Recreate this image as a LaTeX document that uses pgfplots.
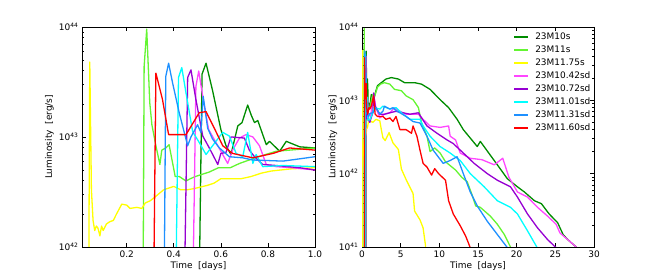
\documentclass[border=0pt]{standalone}
\usepackage{fontspec}
\setmainfont{DejaVu Sans}
\usepackage{pgfplots}
\pgfplotsset{compat=1.18}
\usepackage{pgfplotstable}

\definecolor{cdkgreen}{RGB}{0,140,0}
\definecolor{cltgreen}{RGB}{100,245,50}
\definecolor{cyellow}{RGB}{255,255,0}
\definecolor{cmagenta}{RGB}{255,70,255}
\definecolor{cpurple}{RGB}{150,0,210}
\definecolor{ccyan}{RGB}{0,255,255}
\definecolor{cblue}{RGB}{30,144,255}
\definecolor{cred}{RGB}{255,0,0}

\pgfplotstableread{
t L
0.501 3e40
0.520 3.72e43
0.537 4.68e43
0.565 2.63e43
0.600 1.17e43
0.622 8.32e42
0.643 6.92e42
0.672 1.26e43
0.690 1.35e43
0.714 1.95e43
0.729 1.58e43
0.743 1.35e43
0.757 1.41e43
0.793 8.51e42
0.807 9.12e42
0.850 7.41e42
0.878 9.12e42
0.935 8.13e42
1.00 7.94e42
1.2 1.20e43
1.5 1.05e43
2.0 1.58e43
2.5 1.74e43
3.1 1.95e43
3.8 2.04e43
4.7 1.95e43
5.5 1.74e43
6.8 1.74e43
7.7 1.66e43
8.8 1.41e43
10.1 1.02e43
11.2 7.94e42
12.3 5.50e42
13.1 3.98e42
14.2 2.88e42
14.9 2.34e42
15.3 2.75e42
16.6 1.78e42
17.5 1.32e42
18.8 8.51e41
20.1 6.61e41
21.0 5.62e41
22.3 4.27e41
23.2 3.89e41
24.2 2.82e41
25.3 2.14e41
26.0 1.48e41
26.6 1.26e41
27.7 1.00e41
28.0 3e40
}\tabA

\pgfplotstableread{
t L
0.267 3e40
0.274 4.37e43
0.285 9.55e43
0.298 2.04e43
0.307 1.29e43
0.324 8.32e42
0.341 5.62e42
0.349 7.59e42
0.366 7.94e42
0.380 8.51e42
0.406 4.37e42
0.423 4.37e42
0.452 3.98e42
0.470 4.17e42
0.492 4.37e42
0.520 4.57e42
0.550 4.79e42
0.590 5.25e42
0.640 5.25e42
0.680 5.75e42
0.760 6.61e42
0.835 7.41e42
1.00 7.94e42
1.4 1.20e43
1.6 1.10e43
2.0 1.51e43
2.4 1.66e43
2.9 1.74e43
3.6 1.66e43
4.2 1.41e43
5.1 1.35e43
5.7 1.15e43
6.6 1.02e43
7.3 7.94e42
7.7 4.90e42
8.4 3.24e42
8.8 2.00e42
9.4 2.24e42
10.1 1.91e42
10.8 1.45e42
12.1 1.12e42
12.9 8.91e41
13.6 7.76e41
14.2 5.25e41
14.7 3.63e41
15.3 3.47e41
16.6 2.63e41
17.5 2.04e41
18.4 1.48e41
19.2 1.00e41
19.6 3e40
}\tabB

\pgfplotstableread{
t L
0.036 3e40
0.043 4.79e43
0.050 3.31e42
0.057 1.74e42
0.064 1.41e42
0.071 1.55e42
0.078 1.48e42
0.086 1.26e42
0.093 1.55e42
0.100 1.41e42
0.114 1.62e42
0.129 1.70e42
0.143 1.74e42
0.157 2.00e42
0.179 2.45e42
0.200 2.40e42
0.214 2.24e42
0.243 2.29e42
0.264 2.24e42
0.279 2.51e42
0.300 2.63e42
0.329 2.95e42
0.357 3.31e42
0.400 3.55e42
0.429 3.31e42
0.457 3.31e42
0.486 3.39e42
0.543 3.63e42
0.571 3.80e42
0.600 4.17e42
0.686 4.17e42
0.729 4.37e42
0.771 4.68e42
0.814 4.90e42
0.900 5.13e42
1.00 5.25e42
1.4 5.01e42
1.8 5.50e42
2.3 5.25e42
2.5 3.98e42
2.7 3.09e42
3.0 2.82e42
3.5 3.63e42
4.0 2.63e42
4.7 2.14e42
5.1 1.15e42
5.7 8.32e41
6.6 5.37e41
6.8 3.09e41
7.5 2.34e41
7.9 1.82e41
8.2 1.07e41
8.5 3e40
}\tabC

\pgfplotstableread{
t L
0.473 3e40
0.494 2.88e43
0.506 3.98e43
0.523 2.34e43
0.548 1.17e43
0.579 8.91e42
0.629 5.75e42
0.650 7.59e42
0.679 9.77e42
0.707 1.05e43
0.736 1.00e43
0.764 8.32e42
0.793 5.62e42
0.835 5.37e42
0.900 5.25e42
1.00 5.01e42
1.5 1.20e43
1.8 7.94e42
2.3 5.75e42
2.9 6.46e42
3.6 6.76e42
4.2 7.94e42
4.7 7.24e42
5.7 6.46e42
7.3 6.46e42
7.9 5.50e42
8.8 4.47e42
10.1 4.27e42
11.2 4.47e42
11.4 3.24e42
12.1 2.88e42
12.7 1.91e42
14.0 1.62e42
15.5 1.55e42
17.1 1.32e42
18.2 1.62e42
19.0 8.91e41
20.1 5.62e41
21.4 4.79e41
22.7 3.47e41
24.0 2.63e41
25.1 2.04e41
25.6 1.55e41
26.6 1.26e41
27.7 1.00e41
28.0 3e40
}\tabD

\pgfplotstableread{
t L
0.437 3e40
0.459 3.47e43
0.473 4.07e43
0.494 2.19e43
0.523 1.02e43
0.551 7.94e42
0.587 5.62e42
0.600 7.08e42
0.622 7.24e42
0.643 1.00e43
0.700 9.77e42
0.721 7.59e42
0.743 6.61e42
0.778 5.62e42
0.835 5.50e42
0.935 5.25e42
1.00 5.01e42
1.4 6.76e42
1.5 1.26e43
1.7 8.32e42
2.3 6.46e42
2.9 6.46e42
3.6 6.76e42
4.4 7.08e42
5.3 6.76e42
6.2 6.46e42
7.3 6.76e42
7.7 5.75e42
8.4 4.47e42
9.7 3.55e42
11.0 2.88e42
11.8 2.57e42
13.1 1.91e42
14.5 1.38e42
16.2 1.00e42
17.5 8.13e41
19.2 6.61e41
20.1 4.79e41
21.4 2.82e41
22.7 1.82e41
24.0 1.26e41
25.1 9.77e40
25.4 3e40
}\tabE

\pgfplotstableread{
t L
0.402 3e40
0.420 3.47e43
0.434 4.27e43
0.452 2.51e43
0.480 1.12e43
0.508 8.91e42
0.537 6.92e42
0.565 8.32e42
0.608 1.10e43
0.636 1.02e43
0.665 7.08e42
0.693 6.61e42
0.714 1.10e43
0.736 5.75e42
0.750 6.92e42
0.778 5.37e42
0.864 5.50e42
1.00 5.37e42
1.2 6.03e42
1.6 7.94e42
2.3 7.59e42
2.7 8.32e42
3.6 7.59e42
4.4 7.94e42
5.3 6.46e42
6.2 5.50e42
7.5 5.50e42
7.9 4.47e42
8.8 3.24e42
10.1 2.34e42
11.4 1.91e42
12.7 1.51e42
14.0 1.00e42
15.8 6.61e41
17.5 4.27e41
19.2 3.47e41
20.1 2.82e41
21.4 1.66e41
22.6 1.00e41
22.9 3e40
}\tabF

\pgfplotstableread{
t L
0.355 3e40
0.366 3.55e43
0.378 4.68e43
0.395 3.09e43
0.423 1.66e43
0.459 8.32e42
0.473 1.00e43
0.501 1.29e43
0.515 1.10e43
0.525 2.34e43
0.544 1.20e43
0.565 9.55e42
0.594 7.94e42
0.636 6.61e42
0.693 6.46e42
0.736 6.17e42
0.864 6.03e42
1.00 6.61e42
1.4 6.76e42
1.8 7.94e42
2.3 6.46e42
2.7 7.08e42
2.9 8.32e42
3.6 7.59e42
4.0 7.94e42
4.4 7.24e42
4.9 6.76e42
5.7 6.03e42
6.6 5.13e42
7.5 4.90e42
8.4 3.24e42
9.2 2.09e42
10.5 1.38e42
11.4 1.51e42
12.3 1.70e42
13.1 1.00e42
14.0 5.62e41
14.9 3.63e41
16.2 2.24e41
17.5 1.48e41
18.8 9.77e40
19.1 3e40
}\tabG

\pgfplotstableread{
t L
0.309 3e40
0.324 3.80e43
0.352 2.19e43
0.378 1.05e43
0.452 1.05e43
0.508 1.66e43
0.537 1.70e43
0.579 1.12e43
0.608 8.32e42
0.650 7.08e42
0.736 6.46e42
0.821 7.08e42
0.892 7.94e42
1.00 7.59e42
1.2 8.32e42
1.5 1.15e43
1.7 6.46e42
2.0 6.03e42
2.7 6.03e42
3.1 5.50e42
3.6 5.75e42
4.0 5.13e42
4.4 6.03e42
4.9 3.98e42
5.7 3.98e42
6.4 3.55e42
6.6 4.47e42
7.1 3.24e42
7.5 2.09e42
7.9 1.38e42
8.4 1.23e42
9.0 9.55e41
9.4 1.17e42
9.9 1.00e42
10.8 8.13e41
11.2 4.27e41
11.8 2.82e41
12.7 1.95e41
13.4 1.41e41
14.0 9.77e40
14.3 3e40
}\tabH

\pgfplotsset{
  every axis/.append style={
    scale only axis, height=220bp,
    anchor=south west,
    font=\fontsize{9}{10}\selectfont,
    tick label style={font=\fontsize{9}{10}\selectfont},
    /pgf/number format/assume math mode=true,
    axis line style={line width=0.8bp},
    major tick style={line width=0.6bp, black},
    minor tick style={line width=0.5bp, black},
    major tick length=4bp, minor tick length=2.2bp,
    tick align=inside,
    xlabel={Time\ \ [days]},
    ylabel={Luminosity\ \ [erg/s]},
    xlabel style={at={(axis description cs:0.5,-0.085)}, anchor=center},
  },
  every axis plot/.append style={line width=1.3bp, line join=round},
}

\begin{document}
\begin{tikzpicture}
\path[use as bounding box] (0,0) rectangle (660bp,275bp);

\begin{axis}[ymode=log, at={(82bp,28bp)}, width=233bp,
  xmin=0.01, xmax=1.0, ymin=1e42, ymax=1e44,
  xtick={0.2,0.4,0.6,0.8,1.0},
  xticklabel style={/pgf/number format/.cd, fixed, fixed zerofill, precision=1},
  ytick={1e42,1e43,1e44},
  yticklabels={10\textsuperscript{42},10\textsuperscript{43},10\textsuperscript{44}},
  ylabel style={at={(axis description cs:-0.14,0.5)}, anchor=center},
]
\addplot[cdkgreen] table[x=t,y=L] {\tabA};
\addplot[cltgreen] table[x=t,y=L] {\tabB};
\addplot[cyellow] table[x=t,y=L] {\tabC};
\addplot[cmagenta] table[x=t,y=L] {\tabD};
\addplot[cpurple] table[x=t,y=L] {\tabE};
\addplot[ccyan] table[x=t,y=L] {\tabF};
\addplot[cblue] table[x=t,y=L] {\tabG};
\addplot[cred] table[x=t,y=L] {\tabH};
\end{axis}

\begin{axis}[ymode=log, at={(362bp,28bp)}, width=232bp,
  xmin=0, xmax=30, ymin=1e41, ymax=1e44,
  xtick={0,5,10,15,20,25,30},
  ytick={1e41,1e42,1e43,1e44},
  yticklabels={10\textsuperscript{41},10\textsuperscript{42},10\textsuperscript{43},10\textsuperscript{44}},
  ylabel style={at={(axis description cs:-0.125,0.5)}, anchor=center},
  legend cell align=left,
  legend image code/.code={\draw[#1, line width=2bp] (0bp,0bp) -- (14bp,0bp);},
  legend style={draw=none, fill=none, inner sep=0pt, row sep=0pt, column sep=4bp,
    font=\fontsize{9}{10}\selectfont,
    nodes={text height=7bp, text depth=2.4bp, inner sep=1.8bp},
    at={(0.652,0.985)}, anchor=north west},
]
\addplot[cdkgreen] table[x=t,y=L] {\tabA};
\addplot[cltgreen] table[x=t,y=L] {\tabB};
\addplot[cyellow] table[x=t,y=L] {\tabC};
\addplot[cmagenta] table[x=t,y=L] {\tabD};
\addplot[cpurple] table[x=t,y=L] {\tabE};
\addplot[ccyan] table[x=t,y=L] {\tabF};
\addplot[cblue] table[x=t,y=L] {\tabG};
\addplot[cred] table[x=t,y=L] {\tabH};
\legend{23M10s,23M11s,23M11.75s,23M10.42sd,23M10.72sd,23M11.01sd,23M11.31sd,23M11.60sd}
\end{axis}
\end{tikzpicture}
\end{document}
